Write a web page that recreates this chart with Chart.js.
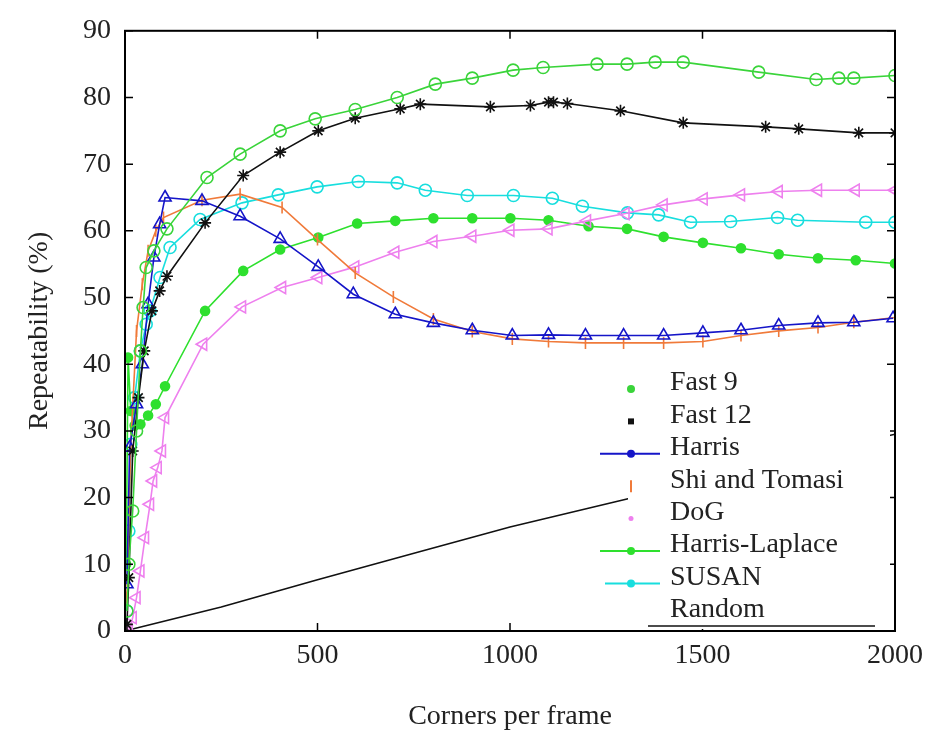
<!DOCTYPE html>
<html>
<head>
<meta charset="utf-8">
<title>Repeatability vs corners per frame</title>
<script src="https://cdn.jsdelivr.net/npm/chart.js@4.4.1/dist/chart.umd.min.js"></script>
<style>
  html, body { margin: 0; padding: 0; background: #fff; }
  #wrap { width: 931px; height: 734px; }
</style>
</head>
<body>
<div id="wrap"><canvas id="chart" width="931" height="734"></canvas></div>
<script>
"use strict"

// series names, in legend order
const seriesNames = ["Fast 9", "Fast 12", "Harris", "Shi and Tomasi", "DoG", "Harris-Laplace", "SUSAN", "Random"];

// values: corners per frame (x) and repeatability % (y)
const fast9X = [5, 10, 20, 30, 40, 47, 55, 75, 109, 213, 299, 403, 494, 598, 707, 806, 902, 1008, 1086, 1226, 1304, 1377, 1450, 1646, 1795, 1854, 1893, 2000];
const fast9Y = [3, 10, 18, 30, 42, 48.5, 54.5, 57, 60.3, 68, 71.5, 75, 76.8, 78.2, 80, 82, 82.9, 84.1, 84.5, 85, 85, 85.3, 85.3, 83.8, 82.7, 82.9, 82.9, 83.3];

const fast12X = [5, 10, 20, 35, 50, 70, 90, 109, 208, 307, 403, 502, 598, 715, 767, 949, 1053, 1100, 1113, 1149, 1287, 1450, 1664, 1750, 1906, 2000];
const fast12Y = [1, 8, 27, 35, 42, 48, 51, 53.2, 61.2, 68.3, 71.8, 75, 76.9, 78.3, 79, 78.6, 78.8, 79.3, 79.3, 79.1, 78, 76.2, 75.6, 75.3, 74.7, 74.7];

const harrisX = [5, 12, 30, 45, 60, 75, 90, 104, 200, 299, 403, 502, 593, 702, 801, 902, 1006, 1100, 1196, 1295, 1399, 1501, 1600, 1698, 1800, 1893, 1995];
const harrisY = [7, 27.5, 34, 40, 49, 56, 61, 65, 64.5, 62.2, 58.8, 54.6, 50.5, 47.5, 46.2, 45.1, 44.3, 44.4, 44.3, 44.3, 44.3, 44.7, 45.1, 45.8, 46.2, 46.3, 46.9];

const shiX = [5, 15, 30, 45, 60, 80, 100, 200, 299, 408, 500, 598, 697, 801, 902, 1006, 1100, 1196, 1295, 1399, 1501, 1600, 1698, 1800, 1893, 2000];
const shiY = [5, 28, 45, 52, 57, 60, 62, 64.6, 65.5, 63.5, 58.7, 53.7, 50.1, 46.8, 44.9, 43.8, 43.4, 43.2, 43.2, 43.2, 43.4, 44.3, 45, 45.5, 46.3, 47];

const dogX = [10, 20, 30, 40, 52, 65, 73, 85, 96, 104, 203, 304, 408, 502, 598, 702, 801, 902, 1001, 1100, 1200, 1300, 1399, 1503, 1600, 1698, 1800, 1898, 2000];
const dogY = [0, 2, 5, 9, 14, 19, 22.5, 24.5, 27, 32, 43, 48.6, 51.5, 53, 54.6, 56.8, 58.4, 59.2, 60.1, 60.3, 61.5, 62.6, 63.9, 64.8, 65.4, 65.9, 66.1, 66.1, 66.1];

const hlX = [3, 8, 15, 25, 40, 60, 80, 104, 208, 307, 403, 502, 603, 702, 801, 902, 1001, 1100, 1204, 1304, 1399, 1501, 1600, 1698, 1800, 1898, 2000];
const hlY = [10, 41, 33, 30.8, 31, 32.3, 34, 36.7, 48, 54, 57.2, 59, 61.1, 61.5, 61.9, 61.9, 61.9, 61.6, 60.7, 60.3, 59.1, 58.2, 57.4, 56.5, 55.9, 55.6, 55.1];

const susanX = [5, 10, 15, 25, 40, 55, 65, 91, 117, 195, 304, 398, 499, 606, 707, 780, 889, 1009, 1110, 1188, 1305, 1386, 1469, 1573, 1695, 1747, 1924, 2000];
const susanY = [3, 15, 28, 35, 42, 46, 48, 53, 57.5, 61.7, 64.2, 65.4, 66.6, 67.4, 67.2, 66.1, 65.3, 65.3, 64.9, 63.7, 62.7, 62.4, 61.3, 61.4, 62, 61.6, 61.3, 61.3];

const randomX = [0, 20, 250, 500, 760, 1000, 1312, 1600, 2000];
const randomY = [0, 0.3, 3.6, 7.7, 11.8, 15.6, 19.9, 24.3, 29.5];

// axis ticks
const xTicks = [0, 500, 1000, 1500, 2000];
const yTicks = [0, 10, 20, 30, 40, 50, 60, 70, 80, 90];

const serif = "'Liberation Serif', 'Times New Roman', serif";
const textColor = "#222";

function toPoints(xs, ys) {
    const pts = [];
    for (let i = 0; i < xs.length; i++) {
        pts.push({ x: xs[i], y: ys[i] });
    }
    return pts;
}

function makeSet(label, xs, ys, color, pointStyle, radius, filled, rotation) {
    return {
        label: label,
        data: toPoints(xs, ys),
        borderColor: color,
        backgroundColor: filled ? color : "rgba(255,255,255,0)",
        borderWidth: 1.6,
        pointStyle: pointStyle,
        pointRadius: radius,
        pointBorderWidth: 1.6,
        pointRotation: rotation || 0,
        pointBackgroundColor: filled ? color : "rgba(255,255,255,0)",
        pointBorderColor: color,
        showLine: true,
        tension: 0,
        fill: false,
    };
}

const colors = ["#3ad43a", "#111111", "#1515c8", "#f07a3a", "#ee80ee", "#2ee02e", "#18dede", "#111111"];

const datasets = [
    makeSet(seriesNames[0], fast9X, fast9Y, colors[0], "circle", 6, false),
    makeSet(seriesNames[1], fast12X, fast12Y, colors[1], "star", 6, false),
    makeSet(seriesNames[2], harrisX, harrisY, colors[2], "triangle", 7, false),
    makeSet(seriesNames[3], shiX, shiY, colors[3], "line", 6, false, 90),
    makeSet(seriesNames[4], dogX, dogY, colors[4], "triangle", 7, false, -90),
    makeSet(seriesNames[5], hlX, hlY, colors[5], "circle", 4.5, true),
    makeSet(seriesNames[6], susanX, susanY, colors[6], "circle", 6, false),
    makeSet(seriesNames[7], randomX, randomY, colors[7], "circle", 0, false),
];

// box, inward ticks and the legend sitting in the lower right of the plot
const framePlugin = {
    id: "frame",
    afterDraw(chart) {
        const ctx = chart.ctx;
        const a = chart.chartArea;
        const xs = chart.scales.x;
        const ys = chart.scales.y;
        ctx.save();
        ctx.strokeStyle = "#000";
        ctx.lineWidth = 2;
        ctx.strokeRect(a.left, a.top, a.right - a.left, a.bottom - a.top);
        ctx.lineWidth = 1.5;
        ctx.beginPath();
        for (const v of yTicks) {
            const py = ys.getPixelForValue(v);
            ctx.moveTo(a.left, py); ctx.lineTo(a.left + 8, py);
            ctx.moveTo(a.right, py); ctx.lineTo(a.right - 8, py);
        }
        for (const v of xTicks) {
            const px = xs.getPixelForValue(v);
            ctx.moveTo(px, a.bottom); ctx.lineTo(px, a.bottom - 8);
            ctx.moveTo(px, a.top); ctx.lineTo(px, a.top + 8);
        }
        ctx.stroke();

        // legend
        ctx.fillStyle = "#fff";
        ctx.fillRect(628, 368, 262, a.bottom - 368 - 2);
        ctx.font = "28px " + serif;
        ctx.textBaseline = "middle";
        ctx.textAlign = "left";
        const sx = 631;
        for (let i = 0; i < seriesNames.length; i++) {
            const ty = 383 + i * 32.4;
            const my = ty + 6;
            const c = colors[i];
            ctx.strokeStyle = c;
            ctx.fillStyle = c;
            ctx.lineWidth = 2;
            if (i === 0) {
                ctx.beginPath(); ctx.arc(sx, my, 4, 0, Math.PI * 2); ctx.fill();
            } else if (i === 1) {
                ctx.fillRect(sx - 3, my - 3, 6, 6);
            } else if (i === 2 || i === 5 || i === 6) {
                ctx.beginPath(); ctx.moveTo(i === 6 ? 605 : 600, my); ctx.lineTo(660, my); ctx.stroke();
                ctx.beginPath(); ctx.arc(sx, my, 4, 0, Math.PI * 2); ctx.fill();
            } else if (i === 3) {
                ctx.beginPath(); ctx.moveTo(sx, my - 6); ctx.lineTo(sx, my + 6); ctx.stroke();
            } else if (i === 4) {
                ctx.beginPath(); ctx.arc(sx, my, 2.5, 0, Math.PI * 2); ctx.fill();
            } else {
                ctx.lineWidth = 1.5;
                ctx.beginPath(); ctx.moveTo(648, a.bottom - 5); ctx.lineTo(875, a.bottom - 5); ctx.stroke();
            }
            ctx.fillStyle = textColor;
            ctx.fillText(seriesNames[i], 670, ty);
        }
        ctx.restore();
    }
};

const config = {
    type: "scatter",
    data: { datasets: datasets },
    options: {
        responsive: false,
        animation: false,
        layout: { padding: { top: 30, right: 36, left: 0, bottom: 0 } },
        plugins: {
            legend: { display: false },
            tooltip: { enabled: false },
        },
        scales: {
            x: {
                type: "linear",
                min: 0,
                max: 2000,
                afterFit: (scale) => { scale.height = 103; },
                afterBuildTicks: (scale) => { scale.ticks = xTicks.map(v => ({ value: v })); },
                ticks: {
                    font: { family: serif, size: 28 },
                    color: textColor,
                    padding: 8,
                    maxRotation: 0,
                    callback: (v) => String(v),
                },
                grid: { drawOnChartArea: false, drawTicks: false },
                border: { color: "#000", width: 2 },
                title: {
                    display: true,
                    text: "Corners per frame",
                    font: { family: serif, size: 28 },
                    color: textColor,
                    padding: { top: 0, bottom: 1 },
                },
            },
            y: {
                type: "linear",
                min: 0,
                max: 90,
                afterFit: (scale) => { scale.width = 125; },
                afterBuildTicks: (scale) => { scale.ticks = yTicks.map(v => ({ value: v })); },
                ticks: { font: { family: serif, size: 28 }, color: textColor, padding: 14 },
                grid: { drawOnChartArea: false, drawTicks: false },
                border: { color: "#000", width: 2 },
                title: {
                    display: true,
                    text: "Repeatability (%)",
                    font: { family: serif, size: 28 },
                    color: textColor,
                    padding: { top: 23, bottom: 0 },
                },
            },
        },
    },
    plugins: [framePlugin],
};

const chartEl = document.getElementById("chart");
const myChart = new Chart(chartEl, config);
</script>
</body>
</html>
